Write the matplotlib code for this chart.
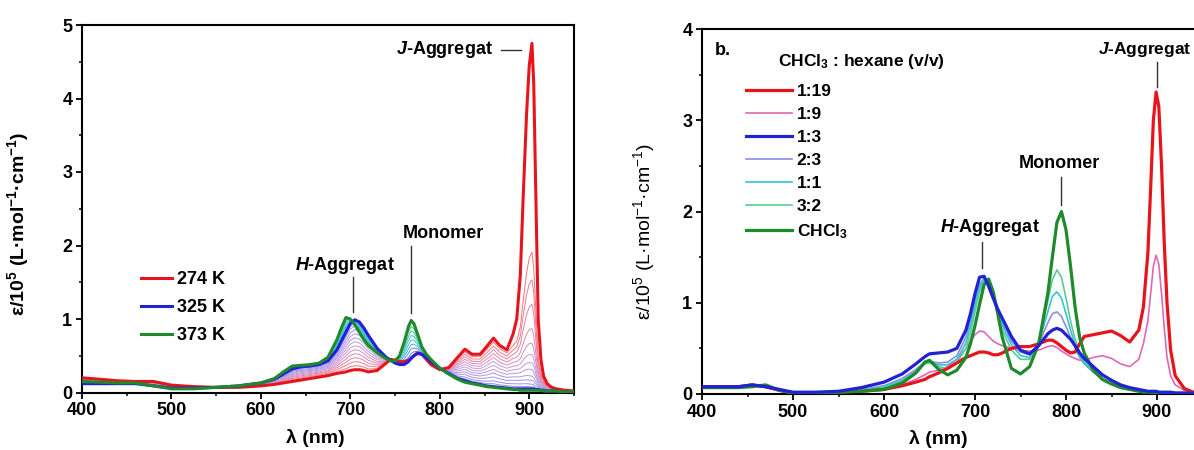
import matplotlib
matplotlib.use("Agg")
import matplotlib.pyplot as plt
import numpy as np
from matplotlib.colors import LinearSegmentedColormap
from matplotlib.ticker import MultipleLocator

plt.rcParams.update({
    "font.family": ["Liberation Sans", "DejaVu Sans"],
    "font.weight": "bold",
    "axes.labelweight": "bold",
    "mathtext.fontset": "custom",
    "mathtext.default": "regular",
    "mathtext.bfit": "Liberation Sans:bold:italic",
    "mathtext.rm": "Liberation Sans",
})

# ---- panel a: temperature series (wavelength grid, nm) ----
WL_A = [400, 420, 440, 460, 480, 500, 525, 550, 575, 600,
        615, 625, 635, 645, 655, 665, 675, 685, 690, 695,
        700, 705, 710, 715, 720, 730, 740, 745, 750, 755,
        760, 765, 768, 771, 775, 780, 785, 790, 800, 810,
        820, 828, 836, 845, 852, 860, 867, 875, 882, 886,
        890, 893, 897, 900, 903, 905, 907, 910, 913, 916,
        920, 925, 930, 940, 950]

EPS_274K = [0.20, 0.18, 0.16, 0.15, 0.15, 0.10, 0.08, 0.07, 0.07, 0.09,
            0.11, 0.13, 0.15, 0.17, 0.19, 0.21, 0.23, 0.26, 0.27, 0.28,
            0.30, 0.31, 0.31, 0.30, 0.28, 0.30, 0.40, 0.45, 0.44, 0.42,
            0.42, 0.44, 0.46, 0.50, 0.54, 0.52, 0.45, 0.38, 0.31, 0.34,
            0.48, 0.59, 0.52, 0.52, 0.62, 0.74, 0.64, 0.58, 0.80, 1.00,
            1.60, 2.60, 3.80, 4.45, 4.75, 4.20, 2.90, 1.00, 0.45, 0.22,
            0.12, 0.07, 0.05, 0.03, 0.02]

# sharp J-band part of the 274 K spectrum (above its broad shoulder)
J_BAND_274K = [0, 0, 0, 0, 0, 0, 0, 0, 0, 0,
               0, 0, 0, 0, 0, 0, 0, 0, 0, 0,
               0, 0, 0, 0, 0, 0, 0, 0, 0, 0,
               0, 0, 0, 0, 0, 0, 0, 0, 0, 0,
               0, 0, 0, 0, 0, 0, 0, 0, 0.18, 0.40,
               1.04, 2.08, 3.34, 4.05, 4.40, 3.89, 2.63, 0.78, 0.28, 0.09,
               0.03, 0, 0, 0, 0]

EPS_325K = [0.12, 0.12, 0.12, 0.12, 0.09, 0.06, 0.06, 0.07, 0.09, 0.13,
            0.18, 0.25, 0.32, 0.35, 0.36, 0.38, 0.43, 0.58, 0.70, 0.82,
            0.94, 0.99, 0.96, 0.88, 0.78, 0.60, 0.48, 0.44, 0.40, 0.38,
            0.38, 0.42, 0.47, 0.50, 0.53, 0.52, 0.47, 0.42, 0.33, 0.26,
            0.19, 0.16, 0.13, 0.11, 0.09, 0.08, 0.07, 0.06, 0.05, 0.05,
            0.05, 0.05, 0.05, 0.05, 0.05, 0.05, 0.04, 0.04, 0.03, 0.03,
            0.02, 0.02, 0.02, 0.01, 0.01]

EPS_373K = [0.15, 0.14, 0.13, 0.13, 0.09, 0.05, 0.05, 0.07, 0.09, 0.13,
            0.19, 0.28, 0.36, 0.37, 0.38, 0.40, 0.48, 0.72, 0.88, 1.02,
            1.00, 0.92, 0.82, 0.72, 0.64, 0.54, 0.46, 0.43, 0.43, 0.50,
            0.68, 0.90, 0.98, 0.94, 0.80, 0.62, 0.52, 0.45, 0.33, 0.25,
            0.18, 0.14, 0.12, 0.10, 0.08, 0.07, 0.06, 0.05, 0.04, 0.04,
            0.03, 0.03, 0.03, 0.03, 0.03, 0.03, 0.03, 0.03, 0.03, 0.02,
            0.02, 0.02, 0.02, 0.01, 0.01]

# intermediate temperatures: fraction of 274 K broad band / of J band
MID_BROAD = [0.92, 0.84, 0.76, 0.68, 0.60, 0.52, 0.44, 0.36, 0.28, 0.20, 0.12, 0.06]
MID_JBAND = [0.36, 0.28, 0.21, 0.14, 0.10, 0.07, 0.05, 0.035, 0.02, 0.012, 0.006, 0.002]
# 325 K -> 373 K fractions
HOT_FRAC = [0.12, 0.24, 0.36, 0.48, 0.60, 0.72, 0.84, 0.94]

# ---- panel b: solvent series ----
WL_B = [400, 420, 440, 455, 470, 485, 500, 525, 550, 575,
        600, 620, 635, 645, 650, 660, 670, 680, 690, 695,
        700, 705, 710, 715, 720, 725, 730, 740, 750, 760,
        770, 780, 785, 790, 795, 800, 805, 810, 815, 820,
        830, 840, 850, 860, 870, 880, 885, 890, 893, 896,
        899, 902, 905, 908, 911, 915, 920, 930, 940, 950]

EPS_1_19 = [0.08, 0.08, 0.08, 0.10, 0.08, 0.04, 0.01, 0.01, 0.02, 0.03,
            0.05, 0.09, 0.13, 0.16, 0.19, 0.23, 0.28, 0.34, 0.40, 0.42,
            0.44, 0.46, 0.46, 0.45, 0.43, 0.43, 0.45, 0.50, 0.52, 0.52,
            0.55, 0.59, 0.59, 0.56, 0.52, 0.48, 0.45, 0.46, 0.55, 0.63,
            0.65, 0.67, 0.69, 0.64, 0.57, 0.70, 0.95, 1.55, 2.25, 3.00,
            3.31, 3.15, 2.50, 1.65, 1.00, 0.48, 0.20, 0.06, 0.02, 0.01]
EPS_1_9 = [0.08, 0.08, 0.08, 0.10, 0.07, 0.04, 0.01, 0.01, 0.02, 0.03,
           0.05, 0.10, 0.16, 0.21, 0.24, 0.26, 0.30, 0.38, 0.50, 0.58,
           0.65, 0.69, 0.68, 0.63, 0.58, 0.55, 0.53, 0.50, 0.48, 0.47,
           0.48, 0.52, 0.53, 0.51, 0.47, 0.44, 0.41, 0.39, 0.37, 0.37,
           0.40, 0.42, 0.39, 0.33, 0.30, 0.38, 0.55, 0.80, 1.10, 1.40,
           1.52, 1.42, 1.10, 0.72, 0.40, 0.20, 0.10, 0.04, 0.02, 0.01]
EPS_1_3 = [0.08, 0.08, 0.08, 0.10, 0.08, 0.05, 0.02, 0.02, 0.03, 0.07,
           0.13, 0.22, 0.33, 0.41, 0.44, 0.45, 0.46, 0.50, 0.70, 0.88,
           1.10, 1.28, 1.29, 1.18, 1.05, 0.93, 0.83, 0.63, 0.48, 0.44,
           0.53, 0.66, 0.70, 0.72, 0.70, 0.65, 0.60, 0.53, 0.45, 0.39,
           0.30, 0.21, 0.15, 0.10, 0.07, 0.05, 0.04, 0.03, 0.03, 0.03,
           0.03, 0.02, 0.02, 0.02, 0.02, 0.02, 0.01, 0.01, 0.01, 0.01]
EPS_2_3 = [0.08, 0.08, 0.08, 0.10, 0.08, 0.04, 0.01, 0.02, 0.03, 0.05,
           0.09, 0.17, 0.27, 0.35, 0.36, 0.34, 0.35, 0.42, 0.62, 0.80,
           1.02, 1.20, 1.27, 1.20, 1.05, 0.90, 0.78, 0.58, 0.46, 0.43,
           0.55, 0.78, 0.88, 0.90, 0.85, 0.74, 0.62, 0.50, 0.40, 0.33,
           0.24, 0.17, 0.12, 0.08, 0.05, 0.04, 0.03, 0.02, 0.02, 0.02,
           0.02, 0.02, 0.02, 0.02, 0.02, 0.02, 0.01, 0.01, 0.01, 0.01]
EPS_1_1 = [0.08, 0.08, 0.08, 0.09, 0.08, 0.04, 0.01, 0.02, 0.02, 0.04,
           0.08, 0.15, 0.25, 0.34, 0.35, 0.32, 0.32, 0.38, 0.56, 0.74,
           0.96, 1.16, 1.27, 1.22, 1.07, 0.90, 0.75, 0.54, 0.42, 0.40,
           0.56, 0.90, 1.07, 1.12, 1.05, 0.88, 0.70, 0.54, 0.42, 0.34,
           0.24, 0.16, 0.11, 0.07, 0.05, 0.03, 0.03, 0.02, 0.02, 0.02,
           0.02, 0.02, 0.02, 0.02, 0.02, 0.02, 0.01, 0.01, 0.01, 0.01]
EPS_3_2 = [0.07, 0.07, 0.07, 0.09, 0.08, 0.04, 0.01, 0.01, 0.02, 0.04,
           0.07, 0.14, 0.24, 0.33, 0.34, 0.30, 0.28, 0.34, 0.50, 0.67,
           0.90, 1.12, 1.24, 1.23, 1.08, 0.88, 0.70, 0.48, 0.38, 0.38,
           0.58, 1.02, 1.25, 1.36, 1.28, 1.05, 0.80, 0.60, 0.45, 0.36,
           0.25, 0.16, 0.11, 0.07, 0.05, 0.03, 0.03, 0.02, 0.02, 0.02,
           0.02, 0.02, 0.02, 0.02, 0.02, 0.02, 0.01, 0.01, 0.01, 0.01]
EPS_CHCL3 = [0.07, 0.07, 0.07, 0.08, 0.10, 0.04, 0.01, 0.01, 0.02, 0.03,
             0.05, 0.12, 0.23, 0.35, 0.37, 0.27, 0.21, 0.26, 0.40, 0.55,
             0.75, 0.98, 1.20, 1.26, 1.12, 0.88, 0.62, 0.28, 0.22, 0.30,
             0.55, 1.10, 1.50, 1.88, 2.00, 1.80, 1.40, 0.95, 0.62, 0.45,
             0.26, 0.16, 0.11, 0.07, 0.05, 0.03, 0.02, 0.02, 0.02, 0.01,
             0.01, 0.01, 0.01, 0.01, 0.01, 0.01, 0.01, 0.01, 0.01, 0.01]

SOLVENT_LABELS = ["1:19", "1:9", "1:3", "2:3", "1:1", "3:2", "CHCl$_3$"]
SOLVENT_SERIES = [EPS_1_19, EPS_1_9, EPS_1_3, EPS_2_3, EPS_1_1, EPS_3_2, EPS_CHCL3]
SOLVENT_COLORS = ["#e8141c", "#e067b4", "#2121d6", "#8a8ee6", "#33c6d2", "#5acb98", "#1e8a2c"]
SOLVENT_WIDTHS = [2.3, 1.2, 2.3, 1.2, 1.2, 1.2, 2.3]
SOLVENT_Z = [4, 3, 6, 3, 3, 3, 5]

RED, BLUE, GREEN = "#e8141c", "#2121d6", "#1e8a2c"
YLABEL = "ε/10$^5$ (L·mol$^{-1}$·cm$^{-1}$)"

fig = plt.figure(figsize=(11.94, 4.5), dpi=100)
ax1 = fig.add_axes([82 / 1194, 1 - 392.5 / 450, 492 / 1194, 367.5 / 450])
ax2 = fig.add_axes([702 / 1194, 1 - 394 / 450, 500.5 / 1194, 365 / 450])

# ---- panel a ----
wl_a = np.array(WL_A)
red = np.array(EPS_274K)
jband = np.array(J_BAND_274K)
blue = np.array(EPS_325K)
green = np.array(EPS_373K)
broad = red - jband

cold_cmap = LinearSegmentedColormap.from_list("cold", ["#8f8ff2", "#c79ad8", "#ff6a6a"])
for fb, fj in zip(MID_BROAD, MID_JBAND):
    curve = blue + fb * (broad - blue) + fj * jband
    ax1.plot(wl_a, curve, color=cold_cmap(fb), lw=0.7, zorder=2)

hot_cmap = LinearSegmentedColormap.from_list("hot", ["#6a6af0", "#3cc8d8", "#40c060"])
for f in HOT_FRAC:
    ax1.plot(wl_a, blue + f * (green - blue), color=hot_cmap(f), lw=0.7, zorder=2)

ax1.plot(wl_a, red, color=RED, lw=2.2, label="274 K", zorder=4)
ax1.plot(wl_a, blue, color=BLUE, lw=2.2, label="325 K", zorder=5)
ax1.plot(wl_a, green, color=GREEN, lw=2.2, label="373 K", zorder=6)

ax1.set_xlim(400, 950)
ax1.set_ylim(0, 5)
ax1.xaxis.set_major_locator(MultipleLocator(100))
ax1.xaxis.set_minor_locator(MultipleLocator(50))
ax1.yaxis.set_major_locator(MultipleLocator(1))
ax1.yaxis.set_minor_locator(MultipleLocator(0.5))
ax1.set_xlabel("λ (nm)", fontsize=14)
ax1.set_ylabel(YLABEL, fontsize=14)
ax1.xaxis.set_label_coords(0.474, -0.100)
ax1.yaxis.set_label_coords(-0.104, 0.458)

ax1.legend(loc="upper left", bbox_to_anchor=(0.105, 0.35), frameon=False,
           fontsize=13, handlelength=1.7, handletextpad=0.3, labelspacing=0.62,
           borderaxespad=0)

ax1.text(859, 4.66, r"$\mathbfit{J}$-Aggregat", ha="right", va="center", fontsize=13)
ax1.plot([868, 891], [4.66, 4.66], color="#333333", lw=1)
ax1.text(804, 2.17, "Monomer", ha="center", va="center", fontsize=13)
ax1.plot([768, 768], [1.08, 2.0], color="#333333", lw=1)
ax1.text(694, 1.73, r"$\mathbfit{H}$-Aggregat", ha="center", va="center", fontsize=13)
ax1.plot([703, 703], [1.1, 1.57], color="#333333", lw=1)

# ---- panel b ----
wl_b = np.array(WL_B)
for lab, vals, col, lw, z in zip(SOLVENT_LABELS, SOLVENT_SERIES, SOLVENT_COLORS,
                                 SOLVENT_WIDTHS, SOLVENT_Z):
    ax2.plot(wl_b, vals, color=col, lw=lw, label=lab, zorder=z)

ax2.set_xlim(400, 950)
ax2.set_ylim(0, 4)
ax2.xaxis.set_major_locator(MultipleLocator(100))
ax2.xaxis.set_minor_locator(MultipleLocator(50))
ax2.yaxis.set_major_locator(MultipleLocator(1))
ax2.yaxis.set_minor_locator(MultipleLocator(0.5))
ax2.set_xlabel("λ (nm)", fontsize=14)
ax2.set_ylabel(YLABEL, fontsize=14, fontweight="normal")
ax2.xaxis.set_label_coords(0.472, -0.098)
ax2.yaxis.set_label_coords(-0.09, 0.444)

ax2.legend(loc="upper left", bbox_to_anchor=(0.075, 0.868), frameon=False,
           fontsize=12.5, handlelength=2.6, handletextpad=0.3, labelspacing=0.45,
           borderaxespad=0)
ax2.text(0.152, 0.91, "CHCl$_3$ : hexane (v/v)", transform=ax2.transAxes,
         ha="left", va="center", fontsize=12.5)
ax2.text(0.025, 0.942, "b.", transform=ax2.transAxes, ha="left", va="center", fontsize=13)

ax2.text(835, 3.77, r"$\mathbfit{J}$-Aggregat", ha="left", va="center", fontsize=12.5,
         clip_on=False)
ax2.plot([900, 900], [3.36, 3.64], color="#333333", lw=1)
ax2.text(793, 2.53, "Monomer", ha="center", va="center", fontsize=13)
ax2.plot([794.5, 794.5], [2.07, 2.38], color="#333333", lw=1)
ax2.text(716, 1.83, r"$\mathbfit{H}$-Aggregat", ha="center", va="center", fontsize=13)
ax2.plot([707.7, 707.7], [1.38, 1.67], color="#333333", lw=1)

for ax in (ax1, ax2):
    ax.tick_params(which="major", direction="out", length=4, width=1.3,
                   labelsize=13, pad=3)
    ax.tick_params(which="minor", direction="out", length=2.5, width=1.1)
    for sp in ax.spines.values():
        sp.set_linewidth(1.5)

fig.savefig("out.png", dpi=100)
